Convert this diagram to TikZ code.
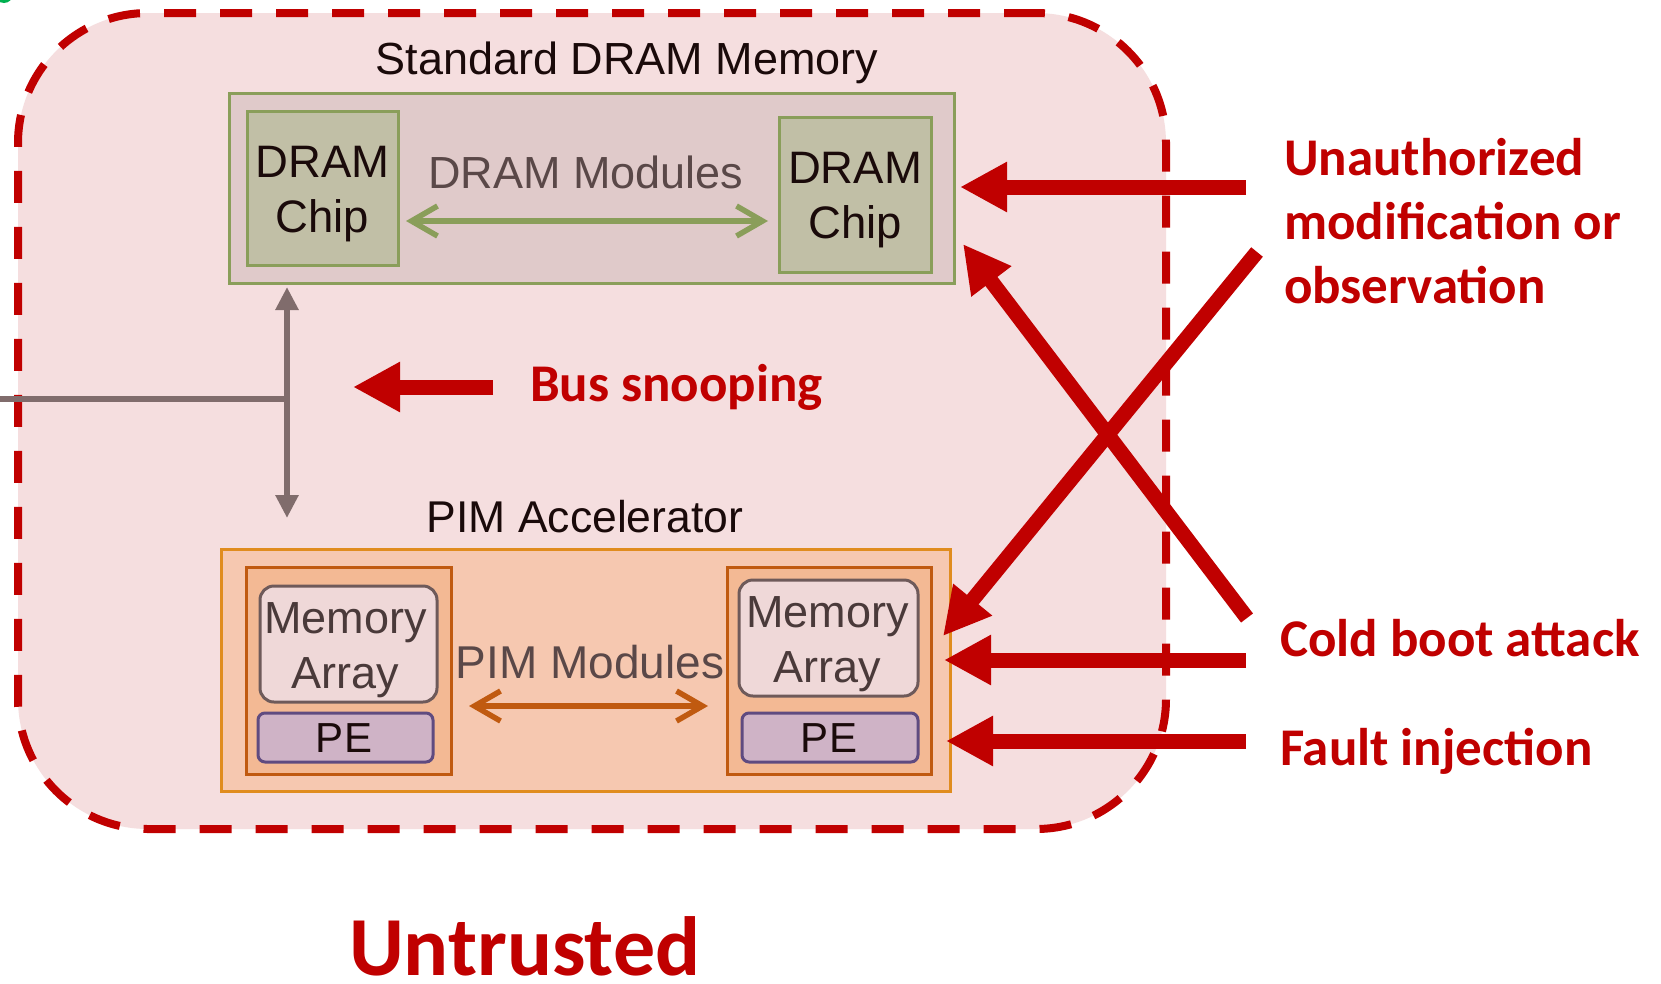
\documentclass[tikz,border=0pt]{standalone}
\usepackage{fontspec}
\setmainfont{Liberation Sans}
\newfontfamily\calbf{Carlito}
\usetikzlibrary{arrows.meta,calc}
\definecolor{red0}{HTML}{C00000}
\definecolor{pinkbg}{HTML}{F5DEDF}
\definecolor{dramfill}{HTML}{E0CACA}
\definecolor{chipfill}{HTML}{C1BFA6}
\definecolor{olive}{HTML}{8A9E5A}
\definecolor{pimfill}{HTML}{F6C8B0}
\definecolor{pimborder}{HTML}{E08C1E}
\definecolor{modfill}{HTML}{F3B994}
\definecolor{modborder}{HTML}{C05A10}
\definecolor{memfill}{HTML}{EFD8D8}
\definecolor{memborder}{HTML}{6E5A5A}
\definecolor{pefill}{HTML}{CFB3C6}
\definecolor{peborder}{HTML}{5F4B80}
\definecolor{busgray}{HTML}{806C6C}
\definecolor{txtdark}{HTML}{1A0A0A}
\definecolor{txtmid}{HTML}{4A3A3A}
\definecolor{txtlabel}{HTML}{5A4848}
\definecolor{green0}{HTML}{00B050}
\begin{document}
\begin{tikzpicture}[x=1pt,y=-1pt,
  every node/.style={inner sep=0pt,outer sep=0pt},
  zone/.style={draw=red0,fill=pinkbg,line width=8pt,dash pattern=on 32pt off 24pt,rounded corners=130pt,anchor=north west},
  dramouter/.style={draw=olive,fill=dramfill,line width=3pt,anchor=north west},
  chipbox/.style={draw=olive,fill=chipfill,line width=3pt,anchor=north west},
  pimouter/.style={draw=pimborder,fill=pimfill,line width=3pt,anchor=north west},
  modbox/.style={draw=modborder,fill=modfill,line width=3pt,anchor=north west},
  membox/.style={draw=memborder,fill=memfill,line width=3pt,rounded corners=14pt,anchor=north west},
  pebox/.style={draw=peborder,fill=pefill,line width=3pt,rounded corners=7pt,anchor=north west},
  title/.style={font=\fontsize{45}{54}\selectfont,text=txtdark,anchor=base},
  boxtxt/.style={font=\fontsize{45.5}{55}\selectfont,text=txtdark,align=center},
  memtxt/.style={font=\fontsize{45}{55}\selectfont,text=txtmid,align=center},
  modlabel/.style={font=\fontsize{45}{54}\selectfont,text=txtlabel,anchor=base},
  attack/.style={font={\calbf\bfseries\fontsize{53}{64}\selectfont},text=red0,anchor=base west,align=left},
  attackarrow/.style={draw=red0,line width=15pt,-{Triangle[length=47pt,width=47pt]}},
  busarrow/.style={draw=busgray,line width=6pt,{Triangle[length=23pt,width=22pt]}-{Triangle[length=23pt,width=22pt]}},
  busline/.style={draw=busgray,line width=6pt},
  greenarrow/.style={draw=olive,line width=5.5pt,{Straight Barb[length=26pt,width=30pt]}-{Straight Barb[length=26pt,width=30pt]}},
  orangearrow/.style={draw=modborder,line width=5.5pt,{Straight Barb[length=26pt,width=30pt]}-{Straight Barb[length=26pt,width=30pt]}}
]
\useasboundingbox (0,0) rectangle (1661,983);
\fill[white] (0,0) rectangle (1661,983);
\fill[green0] (4,-6) circle (9);

% untrusted zone
\node[zone,minimum width=1148pt,minimum height=816pt] (zone) at (18,13) {};

% standard DRAM memory
\node[title] (dramtitle) at (627,74) {Standard DRAM Memory};
\node[dramouter,minimum width=725pt,minimum height=190pt] (dram) at (229,93) {};
\node[chipbox,minimum width=151pt,minimum height=154pt] (chipL) at (247,111) {};
\node[chipbox,minimum width=152pt,minimum height=155pt] (chipR) at (779,117) {};
\node[boxtxt] (chipLt) at ($(chipL.center)+(0,6)$) {DRAM\\Chip};
\node[boxtxt] (chipRt) at ($(chipR.center)+(0,6)$) {DRAM\\Chip};
\node[modlabel] (drammod) at (586,188) {DRAM Modules};
\coordinate (gL) at (406,221);
\coordinate (gR) at (768,221);
\draw[greenarrow] (gL) -- (gR);

% PIM accelerator
\node[title,font=\fontsize{44.5}{54}\selectfont] (pimtitle) at (585,532) {PIM Accelerator};
\node[pimouter,minimum width=729pt,minimum height=242pt] (pim) at (221,549) {};
\node[modbox,minimum width=205pt,minimum height=207pt] (modL) at (246,567) {};
\node[modbox,minimum width=204pt,minimum height=207pt] (modR) at (727,567) {};
\node[membox,minimum width=177pt,minimum height=116pt] (memL) at (260,586) {};
\node[membox,minimum width=179pt,minimum height=116pt] (memR) at (739,580) {};
\node[memtxt] (memLt) at ($(memL.center)+(-3,6)$) {Memory\\Array};
\node[memtxt] (memRt) at ($(memR.center)+(-1,6)$) {Memory\\Array};
\node[pebox,minimum width=175pt,minimum height=49pt] (peL) at (258,713) {};
\node[pebox,minimum width=176pt,minimum height=49pt] (peR) at (742,713) {};
\node[font=\fontsize{42}{50}\selectfont,text=txtdark,anchor=base] (peLt) at (344,752) {PE};
\node[font=\fontsize{42}{50}\selectfont,text=txtdark,anchor=base] (peRt) at (829,752) {PE};
\node[modlabel,font=\fontsize{46}{54}\selectfont] (pimmod) at (590,678) {PIM Modules};
\coordinate (oL) at (469,706);
\coordinate (oR) at (708,706);
\draw[orangearrow] (oL) -- (oR);

% bus
\coordinate (busTop) at (287,287);
\coordinate (busBot) at (287,518);
\coordinate (busJ) at (287,399);
\coordinate (busIn) at (0,399);
\draw[busline] (busIn) -- (busJ);
\draw[busarrow] (busTop) -- (busBot);

% attacks
\node[attack] (snoop) at (530,401) {Bus snooping};
\coordinate (snoopTail) at (493,387);
\coordinate (snoopTip) at (353,387);
\draw[attackarrow] (snoopTail) -- (snoopTip);

\node[attack] (unauth) at (1284,303) {Unauthorized\\modification or\\observation};
\node[attack] (cold) at (1280,656) {Cold boot attack};
\node[attack] (fault) at (1280,765) {Fault injection};

\coordinate (uTail) at (1246,187);
\coordinate (uTip) at (960,187);
\coordinate (d1Tail) at (1247,618);
\coordinate (d1Tip) at (963,244);
\coordinate (d2Tail) at (1257,252);
\coordinate (d2Tip) at (943,636);
\coordinate (cTail) at (1246,660);
\coordinate (cTip) at (944,660);
\coordinate (fTail) at (1246,741);
\coordinate (fTip) at (946,741);
\draw[attackarrow] (uTail) -- (uTip);
\draw[attackarrow] (d1Tail) -- (d1Tip);
\draw[attackarrow] (d2Tail) -- (d2Tip);
\draw[attackarrow] (cTail) -- (cTip);
\draw[attackarrow] (fTail) -- (fTip);

\node[font={\calbf\bfseries\fontsize{84}{90}\selectfont},text=red0,anchor=base west] (untrusted) at (349,975) {Untrusted};
\end{tikzpicture}
\end{document}
